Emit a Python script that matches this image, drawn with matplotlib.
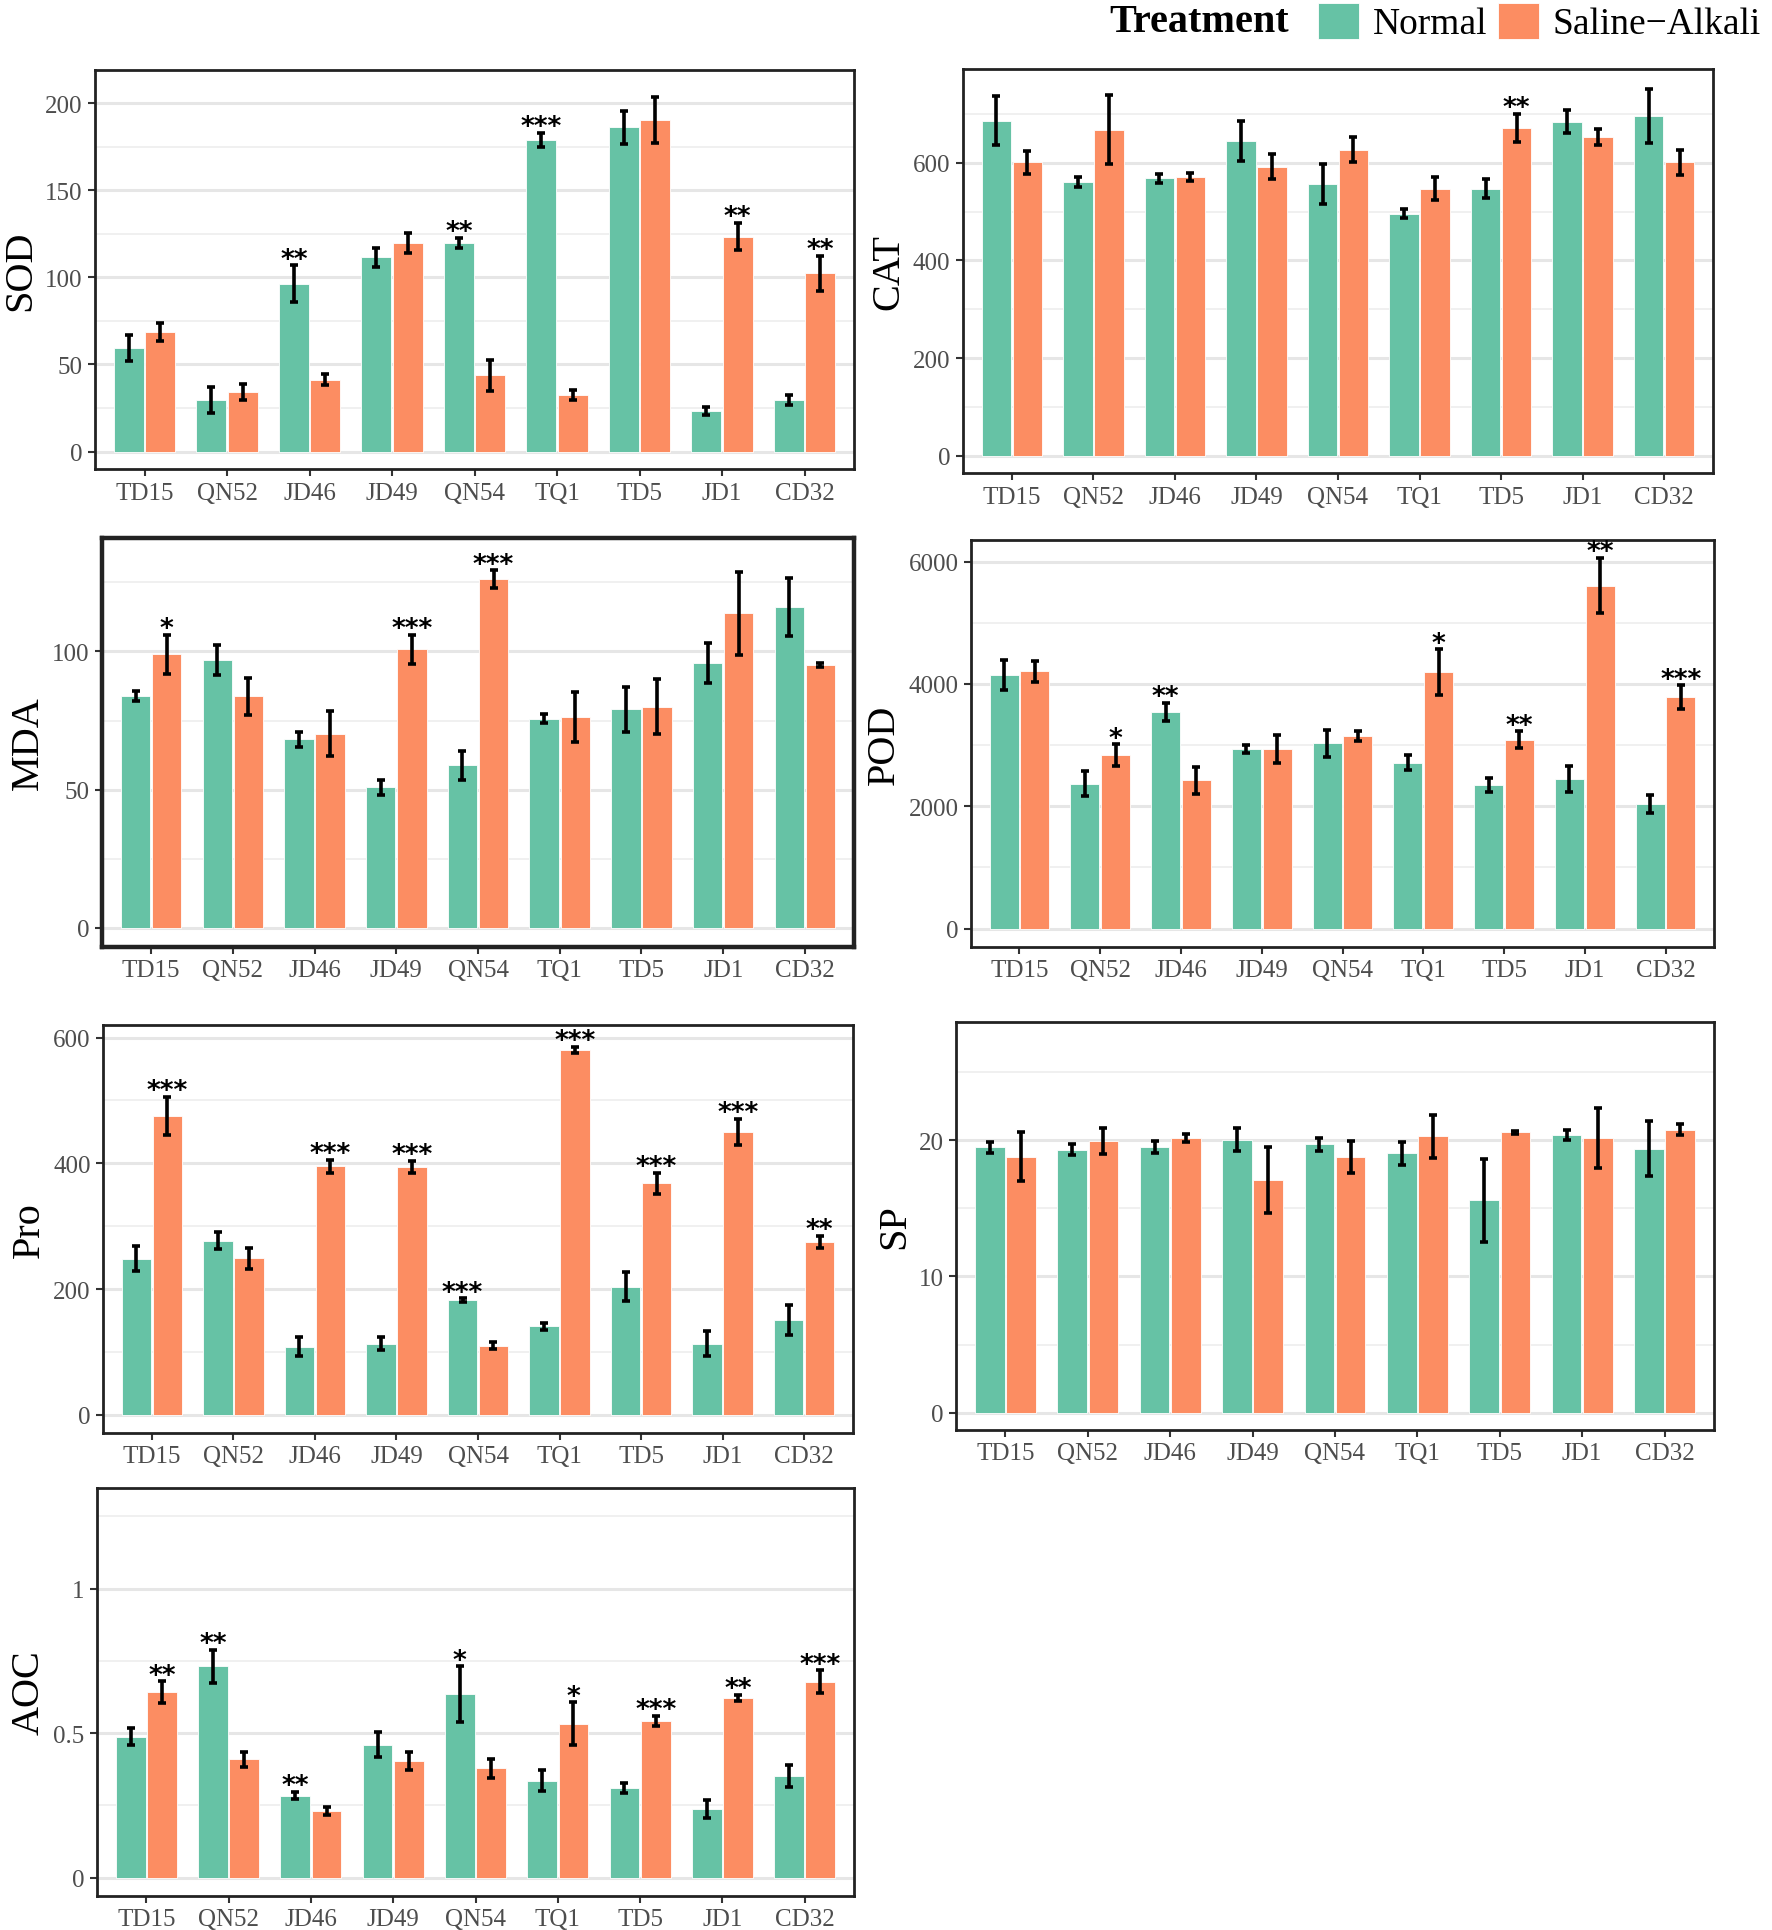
import matplotlib.pyplot as plt
from matplotlib.ticker import MultipleLocator
import numpy as np

W, H = 1772, 1931

cultivars = ['TD15', 'QN52', 'JD46', 'JD49', 'QN54', 'TQ1', 'TD5', 'JD1', 'CD32']
treatments = ['Normal', 'Saline\u2212Alkali']
colors = ['#66C2A5', '#FC8D62']

# mean values (Normal, Saline-Alkali) and error bar half-lengths
sod_normal = [59.2, 29.6, 96.3, 111.6, 119.6, 179.0, 186.0, 23.3, 29.6]
sod_saline = [68.6, 34.2, 41.3, 119.6, 43.7, 32.3, 190.4, 123.4, 102.4]
sod_err_n = [7.5, 7.4, 10.7, 5.4, 3.0, 4.0, 9.6, 2.3, 2.9]
sod_err_s = [5.4, 4.4, 3.0, 5.7, 9.0, 2.8, 13.2, 7.8, 10.1]
sod_sig = ['', '', '**', '', '**', '***', '', '', '']
sod_sig_s = ['', '', '', '', '', '', '', '**', '**']

cat_normal = [686.5, 560, 568, 644, 556, 496, 547, 684, 696]
cat_saline = [601, 668, 570.6, 592, 627, 547, 671.5, 653, 601]
cat_err_n = [50, 10, 9, 41, 41, 9.5, 20, 24, 55]
cat_err_s = [24, 71, 8.4, 26, 25, 23, 28.5, 16.5, 25]
cat_sig = ['', '', '', '', '', '', '', '', '']
cat_sig_s = ['', '', '', '', '', '', '**', '', '']

mda_normal = [83.7, 96.9, 68.2, 50.8, 58.8, 75.7, 79.0, 95.8, 116.0]
mda_saline = [99.0, 83.7, 70.2, 100.7, 126.1, 76.3, 80.0, 113.7, 95.0]
mda_err_n = [1.8, 5.5, 2.6, 2.7, 5.2, 1.6, 8.1, 7.1, 10.5]
mda_err_s = [7.0, 6.8, 8.2, 5.2, 3.2, 8.9, 9.9, 15.0, 0.8]
mda_sig = ['', '', '', '', '', '', '', '', '']
mda_sig_s = ['*', '', '', '***', '***', '', '', '', '']

pod_normal = [4147, 2371, 3548, 2937, 3030, 2714, 2349, 2447, 2038]
pod_saline = [4207, 2839, 2425, 2937, 3155, 4196, 3090, 5608, 3782]
pod_err_n = [240, 201, 147, 66, 218, 125, 114, 207, 142]
pod_err_s = [174, 175, 218, 224, 82, 371, 136, 452, 196]
pod_sig = ['', '', '**', '', '', '', '', '', '']
pod_sig_s = ['', '*', '', '', '', '*', '**', '**', '***']

pro_normal = [248, 277, 108, 113, 182, 140.5, 204, 113, 150.5]
pro_saline = [475, 248.6, 395, 394, 110, 580, 368, 450, 275]
pro_err_n = [20, 13, 15, 10, 3, 5.5, 23, 19.5, 24]
pro_err_s = [30.6, 17.4, 11, 10, 6, 5, 17, 20.7, 10]
pro_sig = ['', '', '', '', '***', '', '', '', '']
pro_sig_s = ['***', '', '***', '***', '', '***', '***', '***', '**']

sp_normal = [19.5, 19.3, 19.5, 20.05, 19.7, 19.04, 15.6, 20.4, 19.4]
sp_saline = [18.8, 19.95, 20.2, 17.1, 18.8, 20.3, 20.6, 20.2, 20.8]
sp_err_n = [0.4, 0.4, 0.45, 0.85, 0.5, 0.86, 3.05, 0.4, 2.0]
sp_err_s = [1.8, 0.95, 0.3, 2.45, 1.17, 1.6, 0.1, 2.2, 0.4]
sp_sig = ['', '', '', '', '', '', '', '', '']
sp_sig_s = ['', '', '', '', '', '', '', '', '']

aoc_normal = [0.488, 0.731, 0.284, 0.460, 0.634, 0.336, 0.309, 0.237, 0.352]
aoc_saline = [0.642, 0.410, 0.231, 0.404, 0.378, 0.533, 0.543, 0.622, 0.678]
aoc_err_n = [0.028, 0.057, 0.013, 0.043, 0.097, 0.037, 0.017, 0.032, 0.037]
aoc_err_s = [0.037, 0.026, 0.013, 0.031, 0.034, 0.073, 0.017, 0.010, 0.039]
aoc_sig = ['', '**', '**', '', '*', '', '', '', '']
aoc_sig_s = ['**', '', '', '', '', '*', '***', '**', '***']

plt.rcParams['font.family'] = ['Liberation Serif', 'DejaVu Serif']

fig = plt.figure(figsize=(W / 100, H / 100), dpi=100)


def add_panel(x0, y0, x1, y1, border=2.0):
    ax = fig.add_axes([x0 / W, 1 - y1 / H, (x1 - x0) / W, (y1 - y0) / H])
    for s in ax.spines.values():
        s.set_linewidth(border)
        s.set_color('#222222')
    return ax


panels = [
    ('SOD', (95, 71, 854, 470), sod_normal, sod_saline, sod_err_n, sod_err_s, sod_sig, sod_sig_s,
     (-10, 219), 50, None, 2.0),
    ('CAT', (963, 70, 1713, 474), cat_normal, cat_saline, cat_err_n, cat_err_s, cat_sig, cat_sig_s,
     (-35, 792), 200, None, 2.0),
    ('MDA', (102, 539, 854, 948), mda_normal, mda_saline, mda_err_n, mda_err_s, mda_sig, mda_sig_s,
     (-6.9, 141), 50, None, 3.2),
    ('POD', (971, 541, 1714, 948), pod_normal, pod_saline, pod_err_n, pod_err_s, pod_sig, pod_sig_s,
     (-300, 6354), 2000, None, 2.0),
    ('Pro', (103, 1026, 853, 1434), pro_normal, pro_saline, pro_err_n, pro_err_s, pro_sig, pro_sig_s,
     (-29, 620), 200, None, 2.0),
    ('SP', (956, 1023, 1714, 1431), sp_normal, sp_saline, sp_err_n, sp_err_s, sp_sig, sp_sig_s,
     (-1.28, 28.7), 10, None, 2.0),
    ('AOC', (97, 1489, 854, 1897), aoc_normal, aoc_saline, aoc_err_n, aoc_err_s, aoc_sig, aoc_sig_s,
     (-0.0635, 1.348), 0.5, ['0', '0.5', '1'], 2.0),
]

x = np.arange(len(cultivars))
bw = 0.36
off = 0.19
bars = None
for name, box, vn, vs, en, es, sn, ss, ylim, step, tlabels, border in panels:
    ax = add_panel(*box, border=border)
    ax.set_axisbelow(True)
    b1 = ax.bar(x - off, vn, bw, color=colors[0], edgecolor='white', linewidth=0.6)
    b2 = ax.bar(x + off, vs, bw, color=colors[1], edgecolor='white', linewidth=0.6)
    bars = (b1, b2)
    ax.errorbar(x - off, vn, yerr=en, fmt='none', ecolor='black', elinewidth=2.6,
                capsize=2.8, capthick=2.6)
    ax.errorbar(x + off, vs, yerr=es, fmt='none', ecolor='black', elinewidth=2.6,
                capsize=2.8, capthick=2.6)
    for i in range(len(cultivars)):
        for xs, v, e, s in ((x[i] - off, vn[i], en[i], sn[i]), (x[i] + off, vs[i], es[i], ss[i])):
            if s:
                ax.annotate(s, (xs, v + e), xytext=(0, -1), textcoords='offset points',
                            ha='center', va='baseline', fontsize=19, fontweight='bold',
                            family='DejaVu Sans')
    ax.set_xlim(-0.6, len(cultivars) - 0.4)
    ax.set_ylim(*ylim)
    ax.yaxis.set_major_locator(MultipleLocator(step))
    ax.yaxis.set_minor_locator(MultipleLocator(step / 2))
    if tlabels:
        ax.set_yticks([0, 0.5, 1])
        ax.set_yticklabels(tlabels)
    ax.grid(axis='y', which='major', color='#E6E6E6', linewidth=2.2)
    ax.grid(axis='y', which='minor', color='#EFEFEF', linewidth=1.3)
    ax.tick_params(axis='y', which='minor', length=0)
    ax.set_xticks(x)
    ax.set_xticklabels(cultivars)
    ax.tick_params(axis='both', which='major', labelsize=18, labelcolor='#4D4D4D',
                   color='#333333', length=5, width=1.5, pad=4)
    ax.set_ylabel(name, fontsize=29, labelpad=4)

fig.text(1109 / W, 1 - 23 / H, 'Treatment', fontsize=29, fontweight='bold',
         ha='left', va='center')
fig.legend(bars, treatments, loc='center left', bbox_to_anchor=(1318 / W, 1 - 23 / H),
           ncol=2, frameon=False, fontsize=27, handlelength=1.1, handleheight=1.1,
           handletextpad=0.35, columnspacing=0.3, borderpad=0, borderaxespad=0)

fig.savefig('out.png', dpi=100)
